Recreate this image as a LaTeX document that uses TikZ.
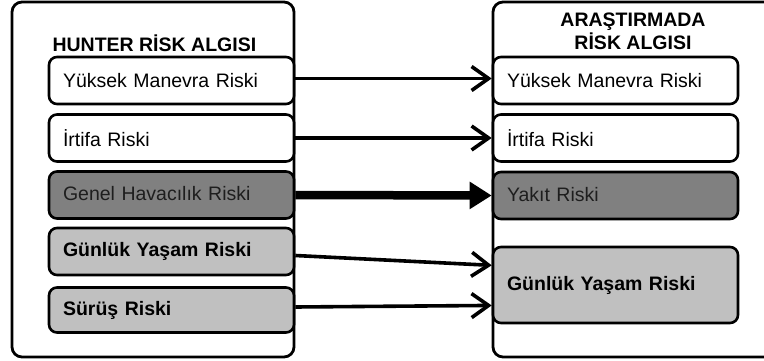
\documentclass[tikz,border=0pt]{standalone}
\usepackage{fontspec}
\setmainfont{Liberation Sans}
\usetikzlibrary{arrows.meta,calc}
\definecolor{darkfill}{HTML}{808080}
\definecolor{lightfill}{HTML}{C0C0C0}
\definecolor{darktext}{HTML}{1E1E1E}
\tikzset{
  panel/.style={draw=black,line width=2.8pt,rounded corners=10pt,fill=white},
  riskbox/.style={draw=black,line width=2.6pt,rounded corners=8pt,
    minimum height=47pt,text width=217pt,inner xsep=14pt,inner ysep=0pt,
    align=left,font=\fontsize{19.5}{22}\selectfont,anchor=center},
  whitebox/.style={riskbox,fill=white},
  darkbox/.style={riskbox,fill=darkfill,text=darktext},
  lightbox/.style={riskbox,fill=lightfill,font=\fontsize{19.5}{22}\selectfont\bfseries},
  heading/.style={font=\fontsize{19.5}{23}\selectfont\bfseries,align=center},
  link/.style={line width=3.6pt,-{Straight Barb[length=17pt,width=24pt]}},
  boldlink/.style={line width=8.5pt,-{Triangle[length=22pt,width=26pt]}}
}
\begin{document}
\begin{tikzpicture}[x=1pt,y=-1pt]
  \useasboundingbox (0,0) rectangle (764,361);
  \clip (0,0) rectangle (764,361);

  % outer panels
  \draw[panel] (12,2) rectangle (294,357);
  \draw[panel] (493,2) rectangle (800,357);

  % headings
  \node[heading,anchor=west] (lt) at (49,43) {HUNTER RİSK ALGISI};
  \node[heading] (rt) at (633,31) {ARAŞTIRMADA\\RİSK ALGISI};

  % left column
  \node[whitebox] (l1) at (171.5,80.5) {Yüksek Manevra Riski};
  \node[whitebox] (l2) at (171.5,138) {İrtifa Riski};
  \node[darkbox]  (l3) at (171.5,195) {\raisebox{3pt}{Genel Havacılık Riski}};
  \node[lightbox] (l4) at (171.5,251.5) {\raisebox{3pt}{Günlük Yaşam Riski}};
  \node[lightbox,minimum height=45pt] (l5) at (171.5,310) {\raisebox{3pt}{Sürüş Riski}};

  % right column
  \node[whitebox] (r1) at (615.5,80.5) {Yüksek Manevra Riski};
  \node[whitebox] (r2) at (615.5,138) {İrtifa Riski};
  \node[darkbox]  (r3) at (615.5,195.5) {\raisebox{3pt}{Yakıt Riski}};
  \node[lightbox,minimum height=76pt] (r4) at (615.5,285) {Günlük Yaşam Riski};

  % connectors
  \draw[link] ([yshift=2pt]l1.east) -- ([yshift=2pt]r1.west);
  \draw[link] (l2.east) -- (r2.west);
  \draw[boldlink] (l3.east) -- (r3.west);
  \draw[link] ([yshift=-4pt]l4.east) -- ($(r4.north west)!0.25!(r4.south west)$);
  \draw[link] ([yshift=3pt]l5.east) -- ($(r4.north west)!0.76!(r4.south west)$);
\end{tikzpicture}
\end{document}
